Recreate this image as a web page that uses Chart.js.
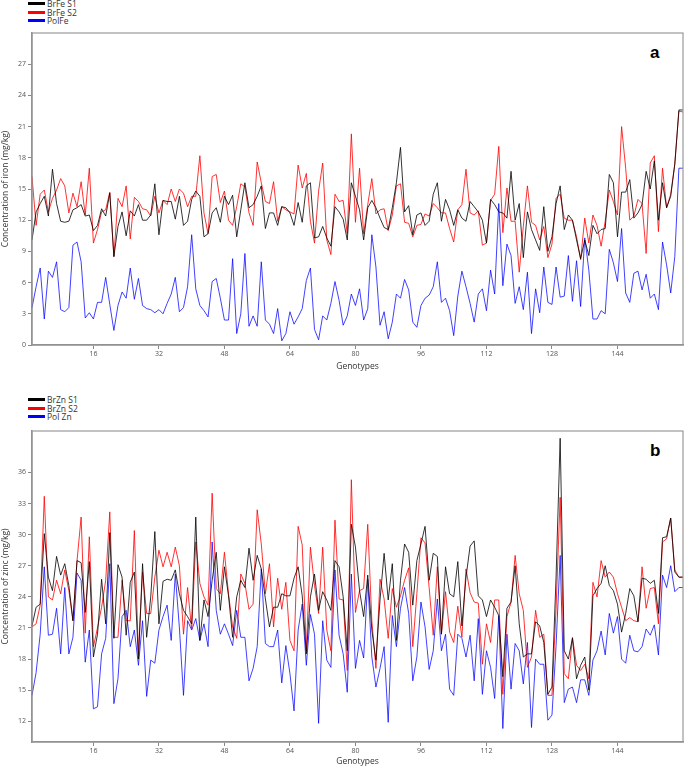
<!DOCTYPE html>
<html>
<head>
<meta charset="utf-8">
<script src="https://cdn.jsdelivr.net/npm/chart.js@4.4.1/dist/chart.umd.min.js"></script>
<style>
  body { margin: 0; background: #fff; width: 685px; height: 768px; position: relative; overflow: hidden; font-family: "Open Sans", "DejaVu Sans", sans-serif; }
  canvas { position: absolute; left: 0; }
  .leg { position: absolute; left: 28px; font-size: 8.5px; color: #333; line-height: 8.5px; white-space: nowrap; }
  .leg span { display: inline-block; width: 17px; height: 3px; vertical-align: middle; margin-right: 2px; margin-top: -2px; }
  .tag { position: absolute; font: bold 17px "Liberation Sans", Arial, sans-serif; color: #000; }
</style>
</head>
<body>
<div class="leg" style="top:0px"><span style="background:#000"></span>BrFe S1</div>
<div class="leg" style="top:8.5px"><span style="background:#f00"></span>BrFe S2</div>
<div class="leg" style="top:17px"><span style="background:#00f"></span>PolFe</div>
<div class="leg" style="top:396px"><span style="background:#000"></span>BrZn S1</div>
<div class="leg" style="top:404.5px"><span style="background:#f00"></span>BrZn S2</div>
<div class="leg" style="top:413px"><span style="background:#00f"></span>Pol Zn</div>
<div class="tag" style="left:650px;top:43px">a</div>
<div class="tag" style="left:650px;top:441px">b</div>
<canvas id="chartA" width="685" height="384" style="top:0"></canvas>
<canvas id="chartB" width="685" height="384" style="top:384px"></canvas>
<script>
// Genotype numbers 1..160
var genotypes = [];
for (var g = 1; g <= 160; g++) genotypes.push(g);

var xTickLabels = [16, 32, 48, 64, 80, 96, 112, 128, 144];
var yTicksFe = [0, 3, 6, 9, 12, 15, 18, 21, 24, 27];
var yTicksZn = [12, 15, 18, 21, 24, 27, 30, 33, 36];

// Iron, panel a
var brFeS1 = [10.1,12.8,13.6,14.3,12.4,16.9,13.6,11.9,11.8,11.9,13.0,13.2,13.5,12.4,12.5,11.0,11.5,13.1,12.4,14.6,
  8.5,11.4,12.8,10.5,12.9,12.4,13.5,12.0,12.0,12.5,15.5,10.6,13.9,13.8,13.8,12.1,14.3,11.5,11.9,14.0,
  14.8,14.3,10.4,10.7,12.7,13.2,11.8,14.3,13.5,14.4,10.4,13.0,15.6,13.2,13.5,14.3,15.3,11.2,12.7,12.7,
  11.5,13.3,13.2,12.7,11.5,13.7,11.8,15.3,15.6,10.3,10.4,11.4,10.3,9.5,13.3,12.8,12.1,10.1,15.6,14.3,
  13.0,10.1,13.2,13.9,13.2,12.2,11.3,11.1,13.2,15.6,19.0,12.8,13.4,10.6,12.5,12.7,11.5,11.9,14.5,15.6,
  11.9,14.0,13.0,11.5,13.0,12.2,11.9,13.8,13.3,12.8,12.0,9.8,14.0,13.5,12.8,12.7,12.2,16.7,12.0,13.6,
  8.4,12.8,11.1,10.1,9.1,13.3,9.0,10.4,13.6,15.3,11.1,12.5,12.0,10.1,8.3,10.1,8.6,11.5,10.7,11.1,
  11.2,16.4,15.6,10.4,14.7,14.7,15.9,12.2,12.7,13.5,16.7,15.0,17.7,12.0,15.6,13.2,14.3,17.4,22.6,22.6];
var brFeS2 = [16.2,11.5,14.5,14.9,12.8,14.1,14.9,16.0,15.3,12.7,14.6,13.3,15.7,12.5,17.0,9.8,11.1,12.8,13.0,14.7,
  8.5,14.1,13.3,15.3,10.2,14.2,13.8,13.1,13.0,12.4,14.3,12.7,13.9,13.5,15.0,13.8,15.0,14.6,13.3,14.3,
  14.3,18.2,12.7,10.7,16.2,16.4,13.7,14.8,12.0,11.5,13.3,15.5,15.2,12.7,11.5,17.6,15.6,13.8,13.6,15.7,
  11.9,13.3,13.0,12.8,12.6,17.3,15.1,16.5,11.9,9.8,14.8,17.5,10.1,8.7,14.5,13.8,13.9,10.7,20.3,11.8,
  17.0,10.7,13.5,16.0,12.6,13.0,13.1,11.0,12.5,15.3,15.5,11.8,11.7,10.4,11.5,11.6,12.6,12.4,13.6,13.2,
  12.7,12.7,11.2,9.9,13.0,13.5,16.9,12.7,12.5,12.9,9.6,9.8,13.9,14.5,19.1,10.8,15.1,11.9,11.9,7.0,
  11.4,15.3,11.8,11.5,10.1,11.4,8.4,9.7,14.1,14.5,12.2,12.0,12.0,10.4,8.2,12.2,9.8,12.5,11.5,9.5,
  11.9,14.9,13.8,12.5,21.0,17.0,12.0,12.4,14.0,13.6,8.8,17.5,18.2,10.9,17.0,13.2,14.5,17.4,22.5,22.4];
var polFe = [3.6,5.6,7.4,2.5,7.1,6.5,8.0,3.4,3.2,3.6,9.6,9.9,8.0,2.6,3.1,2.5,4.1,4.1,6.5,3.9,
  1.4,3.8,5.1,4.5,7.4,4.4,6.4,3.8,3.5,3.4,3.1,3.4,3.0,4.0,4.9,6.5,3.2,3.6,5.6,10.6,
  5.4,3.8,3.3,2.7,6.1,6.4,4.5,2.4,2.4,8.3,1.1,3.0,8.8,1.8,2.8,1.8,8.0,2.4,2.0,1.1,
  3.5,0.4,1.1,3.2,2.0,2.7,3.5,6.2,7.4,1.5,0.5,2.8,2.4,4.0,6.1,4.3,1.9,2.8,4.9,3.8,
  5.4,2.4,3.5,10.6,7.5,1.9,3.2,0.6,2.2,4.9,4.5,6.3,5.3,2.2,1.7,3.8,4.5,4.8,5.6,8.0,
  4.1,4.5,3.3,0.9,4.7,7.1,5.6,4.0,2.2,4.9,5.4,3.3,7.2,4.9,13.6,5.7,9.7,8.6,4.0,5.6,
  3.4,7.0,1.1,5.4,3.1,7.5,4.1,3.9,7.5,4.6,4.7,8.6,4.2,8.1,3.7,10.3,7.2,2.5,2.5,3.3,
  3.0,9.2,7.9,6.1,11.2,5.0,4.1,6.9,7.1,5.3,6.8,4.5,4.9,3.4,9.9,7.7,5.0,8.5,17.0,17.0];

// Zinc, panel b
var brZnS1 = [21.2,23.0,23.3,30.1,25.9,24.6,27.9,26.1,27.2,25.1,21.7,27.5,27.3,22.5,27.4,18.2,20.4,25.7,21.4,30.2,
  20.0,27.1,25.9,20.3,25.4,26.4,18.0,27.2,20.1,24.0,30.3,21.4,25.5,25.7,25.6,26.6,24.3,22.7,22.1,21.4,
  31.7,19.8,23.7,22.1,25.6,28.3,22.7,26.9,24.1,20.1,24.0,25.6,24.9,28.7,25.6,28.0,26.7,23.8,21.1,23.0,
  23.0,24.3,24.1,24.1,25.8,26.9,24.1,18.5,24.0,26.2,22.7,24.5,23.7,22.7,27.5,26.9,24.0,18.8,31.0,28.8,
  24.6,22.1,26.1,20.8,17.9,23.7,28.2,23.7,27.2,19.8,25.6,29.1,28.3,23.2,27.5,29.1,30.8,25.6,28.2,27.9,
  20.4,26.9,24.3,24.0,27.4,21.2,25.9,28.9,29.4,24.1,23.7,22.1,23.7,23.0,22.2,16.3,22.9,23.5,27.0,21.4,
  18.2,18.5,18.5,21.6,21.2,19.6,14.6,15.3,25.9,39.3,18.8,18.0,20.0,16.1,17.4,18.2,15.0,24.1,24.8,25.3,
  27.0,25.1,24.6,23.3,20.6,22.4,24.8,24.1,21.6,25.8,25.7,25.3,25.6,22.4,29.7,29.8,31.6,26.4,25.9,25.9];
var brZnS2 = [21.1,21.4,23.2,33.7,24.0,23.7,25.6,24.3,26.6,24.6,21.7,27.5,31.7,20.5,29.8,19.2,21.0,23.0,25.6,32.2,
  20.1,20.1,25.6,21.7,21.7,30.4,18.5,26.4,22.4,22.4,25.9,28.5,26.9,28.3,26.9,28.8,27.0,20.4,24.9,20.8,
  29.3,25.3,24.0,23.2,34.0,24.8,24.3,28.3,24.3,21.1,20.0,26.2,25.3,22.8,23.3,32.4,29.1,24.3,27.2,21.1,
  25.8,22.8,25.4,19.8,18.8,30.8,29.0,18.8,28.8,25.1,22.4,28.8,20.8,18.8,31.4,23.8,23.7,16.9,35.3,22.5,
  24.6,24.8,31.0,21.7,17.1,25.7,23.8,20.0,24.8,23.0,24.1,25.6,26.8,19.2,24.3,29.7,29.2,24.9,20.3,26.9,
  20.4,24.5,20.6,19.6,23.1,20.1,26.7,24.4,23.5,23.4,17.5,21.4,19.6,23.7,23.7,14.6,22.1,23.5,28.0,24.3,
  22.7,17.2,18.2,22.7,20.1,20.4,14.5,14.5,22.9,33.6,16.6,16.1,20.1,17.4,16.9,17.5,16.1,25.4,24.0,27.5,
  25.9,26.4,25.9,24.3,23.0,21.7,22.0,21.7,21.6,26.9,22.9,24.8,24.9,21.4,29.3,29.6,31.6,26.6,25.9,25.9];
var polZn = [14.5,16.7,20.4,26.9,20.3,20.4,22.9,18.5,24.9,18.5,20.1,26.3,25.6,17.7,20.8,13.2,13.4,18.5,20.0,27.2,
  13.7,16.1,22.1,22.7,19.2,20.8,17.4,21.7,14.4,17.9,17.6,20.8,22.1,23.2,19.8,26.2,21.0,14.5,21.7,20.8,
  21.9,19.8,21.4,19.2,29.3,22.7,20.4,21.4,20.4,19.3,22.7,20.1,20.1,15.9,17.1,19.2,26.7,19.5,19.2,19.2,
  20.8,15.7,19.3,16.6,13.0,20.8,23.3,17.4,22.3,20.4,11.8,21.7,17.9,17.2,26.6,20.3,18.5,14.8,26.2,17.1,
  19.8,18.1,25.7,18.2,15.3,17.1,19.2,11.9,22.2,19.2,22.9,24.9,22.4,15.9,18.2,23.5,21.1,17.0,18.8,23.8,
  18.8,20.4,15.1,14.5,20.4,20.0,18.2,20.3,15.9,21.9,14.6,18.8,17.2,14.2,22.2,11.3,20.4,15.1,19.5,18.8,
  15.6,19.6,11.4,18.0,17.5,17.5,12.1,12.6,19.3,28.0,13.8,15.1,15.3,13.8,16.0,16.0,14.5,17.9,18.8,20.7,
  18.4,22.4,20.5,22.1,18.0,17.6,20.3,18.8,18.7,19.2,20.9,20.3,21.3,18.4,26.1,24.9,27.0,24.5,24.9,24.9];

var tickFont = { family: "'Open Sans', 'DejaVu Sans', sans-serif", size: 7 };
var titleFont = { family: "'Open Sans', 'DejaVu Sans', sans-serif", size: 8.5 };

// draws the grey frame round the plot area
var frame = {
  id: 'frame',
  afterDraw: function(chart) {
    var a = chart.chartArea, ctx = chart.ctx;
    ctx.save();
    ctx.strokeStyle = '#9a9a9a';
    ctx.lineWidth = 1.2;
    ctx.strokeRect(a.left, a.top, a.right - a.left, a.bottom - a.top);
    ctx.restore();
  }
};

function makeChart(id, series, names, yMin, yMax, yTicks, yTitle, padTop, xHeight, xTitlePad) {
  var colors = ['rgba(0,0,0,0.8)', 'rgba(255,0,0,0.8)', 'rgba(0,0,255,0.75)'];
  var datasets = [];
  for (var s = 0; s < series.length; s++) {
    datasets.push({
      label: names[s],
      data: series[s],
      borderColor: colors[s],
      borderWidth: 1,
      pointRadius: 0,
      tension: 0,
      fill: false
    });
  }
  return new Chart(document.getElementById(id).getContext('2d'), {
    type: 'line',
    data: { labels: genotypes, datasets: datasets },
    plugins: [frame],
    options: {
      responsive: false,
      animation: false,
      devicePixelRatio: 1,
      layout: { padding: { top: padTop, right: 2, left: 0, bottom: 0 } },
      plugins: { legend: { display: false }, tooltip: { enabled: false } },
      scales: {
        x: {
          type: 'category',
          offset: false,
          afterFit: function(scale) { scale.height = xHeight; },
          grid: { drawOnChartArea: false, tickLength: 4, color: '#888' },
          border: { color: '#888', width: 1.5 },
          ticks: {
            autoSkip: false, maxRotation: 0, padding: 1, color: '#555', font: tickFont,
            callback: function(val) {
              var lab = this.getLabelForValue(val);
              return xTickLabels.indexOf(lab) >= 0 ? lab : null;
            }
          },
          title: { display: true, text: 'Genotypes', color: '#333', font: titleFont, padding: { top: 0, bottom: xTitlePad } }
        },
        y: {
          min: yMin,
          max: yMax,
          afterFit: function(scale) { scale.width = 32; },
          afterBuildTicks: function(scale) {
            scale.ticks = yTicks.map(function(v) { return { value: v }; });
          },
          grid: { drawOnChartArea: false, tickLength: 4, color: '#888' },
          border: { color: '#888', width: 1.5 },
          ticks: { padding: 2, color: '#555', font: tickFont },
          title: { display: true, text: yTitle, color: '#333', font: titleFont, padding: { top: 0, bottom: 2 } }
        }
      }
    }
  });
}

makeChart('chartA', [brFeS1, brFeS2, polFe], ['BrFe S1', 'BrFe S2', 'PolFe'],
  0, 30, yTicksFe, 'Concentration of iron (mg/kg)', 33, 39, 12);
makeChart('chartB', [brZnS1, brZnS2, polZn], ['BrZn S1', 'BrZn S2', 'Pol Zn'],
  10, 40, yTicksZn, 'Concentration of zinc (mg/kg)', 47, 26, 1);
</script>
</body>
</html>
